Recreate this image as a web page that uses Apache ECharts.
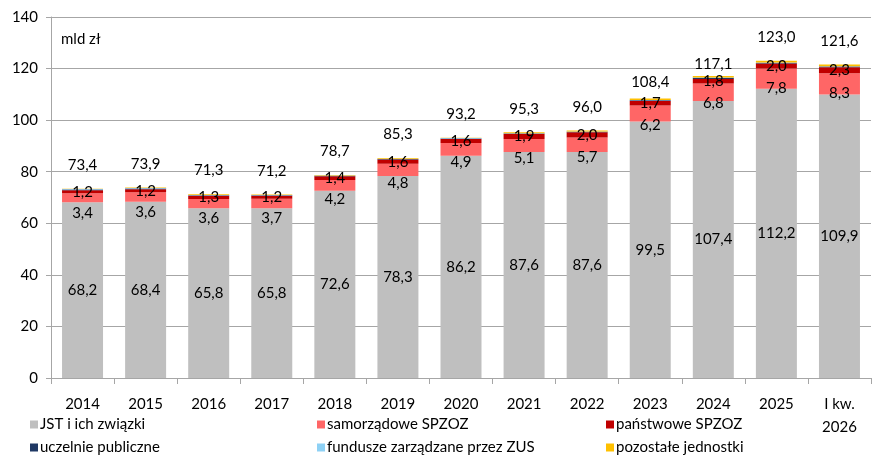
<!DOCTYPE html>
<html>
<head>
<meta charset="utf-8">
<script src="https://cdn.jsdelivr.net/npm/echarts@6/dist/echarts.min.js"></script>
<style>
  html, body { margin: 0; padding: 0; background: #fff; }
  #chart { width: 885px; height: 457px; }
</style>
</head>
<body>
<div id="chart"></div>
<script>
// kategorie (lata)
const years = ['2014', '2015', '2016', '2017', '2018', '2019', '2020', '2021', '2022', '2023', '2024', '2025', 'I kw.\n2026'];

// wartości w mld zł
const jst = [68.2, 68.4, 65.8, 65.8, 72.6, 78.3, 86.2, 87.6, 87.6, 99.5, 107.4, 112.2, 109.9];
const samorzadowe = [3.4, 3.6, 3.6, 3.7, 4.2, 4.8, 4.9, 5.1, 5.7, 6.2, 6.8, 7.8, 8.3];
const panstwowe = [1.2, 1.2, 1.3, 1.2, 1.4, 1.6, 1.6, 1.9, 2.0, 1.7, 1.8, 2.0, 2.3];
const uczelnie = [0.3, 0.3, 0.2, 0.2, 0.2, 0.2, 0.2, 0.2, 0.2, 0.3, 0.4, 0.3, 0.3];
const zus = [0.2, 0.2, 0.1, 0.1, 0.1, 0.1, 0.2, 0.1, 0.1, 0.1, 0.1, 0.1, 0.1];
const pozostale = [0.1, 0.2, 0.3, 0.2, 0.2, 0.3, 0.1, 0.4, 0.4, 0.6, 0.6, 0.6, 0.7];
const totals = [73.4, 73.9, 71.3, 71.2, 78.7, 85.3, 93.2, 95.3, 96.0, 108.4, 117.1, 123.0, 121.6];

const FONT = 'Lato';
const fmt = v => Number(v).toFixed(1).replace('.', ',');

// etykiety sum - w kilku latach niżej nad słupkiem
const totalDistance = { 9: 8, 10: 3 };

const chart = echarts.init(document.getElementById('chart'), null, { renderer: 'canvas' });

const barLabel = extra => Object.assign({
  show: true,
  color: '#000',
  fontFamily: FONT,
  fontSize: 15,
  formatter: p => fmt(p.value)
}, extra);

// legenda w trzech kolumnach, dwa wiersze
const legendItem = (name, left, top) => ({
  left, top,
  data: [name],
  itemWidth: 8,
  itemHeight: 8,
  itemGap: 0,
  icon: 'rect',
  padding: 0,
  textStyle: { fontFamily: FONT, fontSize: 15, color: '#000', padding: [0, 0, 0, -3] }
});

const option = {
  animation: false,
  backgroundColor: '#fff',
  title: {
    text: 'mld zł',
    left: 56,
    top: 27,
    textStyle: { fontFamily: FONT, fontSize: 15, fontWeight: 'normal', color: '#000' }
  },
  legend: [
    legendItem('JST i ich związki', 30, 417),
    legendItem('samorządowe SPZOZ', 317, 417),
    legendItem('państwowe SPZOZ', 606, 417),
    legendItem('uczelnie publiczne', 30, 440),
    legendItem('fundusze zarządzane przez ZUS', 317, 440),
    legendItem('pozostałe jednostki', 606, 440)
  ],
  grid: { left: 51, right: 14, top: 17, bottom: 79 },
  xAxis: {
    type: 'category',
    data: years,
    axisLine: { lineStyle: { color: '#a6a6a6' } },
    axisTick: { show: true, length: 6, lineStyle: { color: '#a6a6a6' } },
    axisLabel: { color: '#000', fontFamily: FONT, fontSize: 15, margin: 15, lineHeight: 23, interval: 0 }
  },
  yAxis: {
    type: 'value',
    min: 0,
    max: 140,
    interval: 20,
    axisLine: { show: true, lineStyle: { color: '#a6a6a6' } },
    axisTick: { show: true, length: 5, lineStyle: { color: '#a6a6a6' } },
    axisLabel: { color: '#000', fontFamily: FONT, fontSize: 15, margin: 13 },
    splitLine: { lineStyle: { color: '#a6a6a6' } }
  },
  series: [
    {
      name: 'JST i ich związki', type: 'bar', stack: 'a', barWidth: '65%',
      data: jst, itemStyle: { color: '#bfbfbf' },
      label: barLabel({ position: 'inside' })
    },
    {
      name: 'samorządowe SPZOZ', type: 'bar', stack: 'a',
      data: samorzadowe, itemStyle: { color: '#ff6666' },
      label: barLabel({ position: 'insideTop', distance: 12 })
    },
    {
      name: 'państwowe SPZOZ', type: 'bar', stack: 'a',
      data: panstwowe, itemStyle: { color: '#c00000' },
      label: barLabel({ position: 'inside' })
    },
    {
      name: 'uczelnie publiczne', type: 'bar', stack: 'a',
      data: uczelnie, itemStyle: { color: '#1f3864' }
    },
    {
      name: 'fundusze zarządzane przez ZUS', type: 'bar', stack: 'a',
      data: zus, itemStyle: { color: '#8ed1f5' }
    },
    {
      name: 'pozostałe jednostki', type: 'bar', stack: 'a',
      data: pozostale, itemStyle: { color: '#ffc000' }
    },
    {
      // niewidoczna seria z sumami - tylko etykiety
      name: 'razem', type: 'scatter', symbol: 'circle', symbolSize: 2,
      itemStyle: { color: 'rgba(255,255,255,0)', opacity: 1 },
      silent: true,
      z: 5,
      data: totals.map((v, i) => ({
        value: v,
        label: {
          distance: totalDistance[i] !== undefined ? totalDistance[i] : 15
        }
      })),
      label: barLabel({ position: 'top' })
    }
  ]
};

chart.setOption(option);
</script>
</body>
</html>
